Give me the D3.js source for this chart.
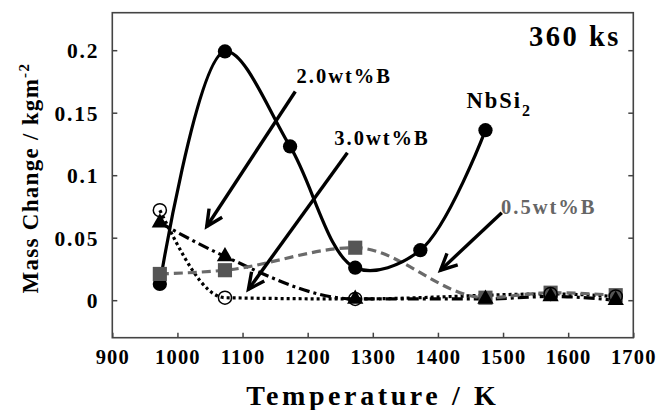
<!DOCTYPE html>
<html>
<head>
  <meta charset="utf-8">
  <script src="https://d3js.org/d3.v7.min.js"></script>
  <style>
    body { margin: 0; background: #fff; }
    text {
      font-family: "Liberation Serif", "Times New Roman", serif;
      font-weight: bold;
      fill: #000;
    }
  </style>
</head>
<body>
  <script>
    // data (temperature in K, mass change in kg/m^2)
    var nbsi2Temps = [973, 1073, 1173, 1273, 1373, 1473];
    var nbsi2Values = [0.013, 0.199, 0.123, 0.026, 0.040, 0.136];

    var boronTemps = [973, 1073, 1273, 1473, 1573, 1673];
    var b05Values = [0.021, 0.024, 0.042, 0.002, 0.006, 0.004];
    var b20Values = [0.062, 0.035, 0.001, 0.001, 0.003, 0.000];
    var b30Temps = [973, 1073, 1273, 1573, 1673];
    var b30Values = [0.072, 0.002, 0.001, 0.005, 0.003];

    var xTicks = [900, 1000, 1100, 1200, 1300, 1400, 1500, 1600, 1700];
    var yTicks = [0, 0.05, 0.1, 0.15, 0.2];

    var W = 656, H = 410;
    var margin = {top: 12.7, right: 22.7, bottom: 72.3, left: 112.3},
        width = W - margin.left - margin.right,
        height = H - margin.top - margin.bottom;

    var svg = d3.select("body").append("svg")
        .attr("width", W)
        .attr("height", H);
    var g = svg.append("g")
        .attr("transform", "translate(" + margin.left + "," + margin.top + ")");

    var x = d3.scaleLinear().domain([900, 1700]).range([0, width]);
    var y = d3.scaleLinear().domain([-0.03, 0.23]).range([height, 0]);

    var frameColor = "#444";

    // axes, ticks pointing inward
    var xAxis = g.append("g")
        .attr("transform", "translate(0," + height + ")")
        .call(d3.axisBottom(x).tickValues(xTicks).tickSize(-5).tickSizeOuter(0).tickFormat(d3.format("d")));
    xAxis.selectAll("text")
        .attr("y", 26.5).attr("dy", null)
        .style("font-size", "20.5px").style("letter-spacing", "1.2px");

    var yAxis = g.append("g")
        .call(d3.axisLeft(y).tickValues(yTicks).tickSize(-5).tickSizeOuter(0).tickFormat(d3.format("")));
    yAxis.selectAll("text")
        .attr("x", -13).attr("dy", "0.35em")
        .style("font-size", "21.5px").style("letter-spacing", "1.8px");

    g.append("g")
        .attr("transform", "translate(" + width + ",0)")
        .call(d3.axisRight(y).tickValues(yTicks).tickSize(-5).tickSizeOuter(0).tickFormat(""));

    g.selectAll(".domain").remove();
    g.selectAll(".tick line").attr("stroke", frameColor).attr("stroke-width", 1.5);

    g.append("rect")
        .attr("width", width).attr("height", height)
        .attr("fill", "none")
        .attr("stroke", frameColor)
        .attr("stroke-width", 1.6);

    // axis titles
    svg.append("text")
        .attr("x", margin.left + width / 2)
        .attr("y", 405)
        .attr("text-anchor", "middle")
        .style("font-size", "28px")
        .style("letter-spacing", "3.6px")
        .text("Temperature / K");

    var yt = svg.append("text")
        .attr("transform", "translate(38," + (margin.top + y(0.1) + 3) + ") rotate(-90)")
        .attr("text-anchor", "middle")
        .style("font-size", "23px")
        .style("letter-spacing", "1.3px");
    yt.append("tspan").text("Mass Change / kgm");
    yt.append("tspan").attr("dy", "-0.6em").style("font-size", "15px").text("-2");

    // curves
    function series(temps, vals) {
      return temps.map(function (t, i) { return [t, vals[i]]; });
    }
    var nbsi2 = series(nbsi2Temps, nbsi2Values),
        b05 = series(boronTemps, b05Values),
        b20 = series(boronTemps, b20Values),
        b30 = series(b30Temps, b30Values);

    var smooth = d3.line().x(d => x(d[0])).y(d => y(d[1])).curve(d3.curveCatmullRom.alpha(0.5));
    var mono = d3.line().x(d => x(d[0])).y(d => y(d[1])).curve(d3.curveMonotoneX);

    g.append("path").datum(b30).attr("d", mono)
        .attr("fill", "none").attr("stroke", "#000").attr("stroke-width", 3.2)
        .attr("stroke-dasharray", "3,3");
    g.append("path").datum(b20).attr("d", mono)
        .attr("fill", "none").attr("stroke", "#000").attr("stroke-width", 3.2)
        .attr("stroke-dasharray", "11,4,3,4");
    g.append("path").datum(b05).attr("d", mono)
        .attr("fill", "none").attr("stroke", "#6a6a6a").attr("stroke-width", 3.2)
        .attr("stroke-dasharray", "9,5");
    g.append("path").datum(nbsi2).attr("d", smooth)
        .attr("fill", "none").attr("stroke", "#000").attr("stroke-width", 3.2);

    // markers
    function markers(data, type, size, fill, stroke) {
      g.selectAll(null).data(data).enter().append("path")
          .attr("transform", d => "translate(" + x(d[0]) + "," + y(d[1]) + ")")
          .attr("d", d3.symbol().type(type).size(size))
          .attr("fill", fill)
          .attr("stroke", stroke)
          .attr("stroke-width", 1.5);
    }
    markers(nbsi2, d3.symbolCircle, 160, "#000", "none");
    markers(b05, d3.symbolSquare, 200, "#555", "none");
    markers(b30, d3.symbolCircle, 135, "none", "#000");
    markers(b20, d3.symbolTriangle, 115, "#000", "none");

    // annotations
    function label(t, v, txt, size) {
      return g.append("text")
          .attr("x", x(t)).attr("y", y(v))
          .style("font-size", size + "px")
          .style("letter-spacing", "2px")
          .text(txt);
    }
    label(1183, 0.174, "2.0wt%B", 20.5);
    label(1241, 0.124, "3.0wt%B", 20.5);
    label(1497, 0.069, "0.5wt%B", 20.5).style("fill", "#666");
    var nb = label(1444, 0.154, "NbSi", 22.5);
    nb.append("tspan").attr("dy", "0.55em").style("font-size", "16px").text("2");
    label(1681, 0.203, "360 ks", 28.5).attr("text-anchor", "end").style("letter-spacing", "2.5px");

    var arrowFrom = [[1181, 0.167], [1261, 0.118], [1498, 0.070]];
    var arrowTo = [[1045, 0.059], [1109, 0.0086], [1404, 0.024]];
    arrowFrom.forEach(function (a, i) {
      var x0 = x(a[0]), y0 = y(a[1]), x1 = x(arrowTo[i][0]), y1 = y(arrowTo[i][1]);
      var ang = Math.atan2(y1 - y0, x1 - x0), len = 18, spread = 0.45;
      g.append("line")
          .attr("x1", x0).attr("y1", y0).attr("x2", x1).attr("y2", y1)
          .attr("stroke", "#000").attr("stroke-width", 3.4);
      var p = d3.path();
      p.moveTo(x1 - len * Math.cos(ang - spread), y1 - len * Math.sin(ang - spread));
      p.lineTo(x1, y1);
      p.lineTo(x1 - len * Math.cos(ang + spread), y1 - len * Math.sin(ang + spread));
      g.append("path").attr("d", p.toString())
          .attr("fill", "none").attr("stroke", "#000").attr("stroke-width", 3.4)
          .attr("stroke-linejoin", "miter");
    });
  </script>
</body>
</html>
